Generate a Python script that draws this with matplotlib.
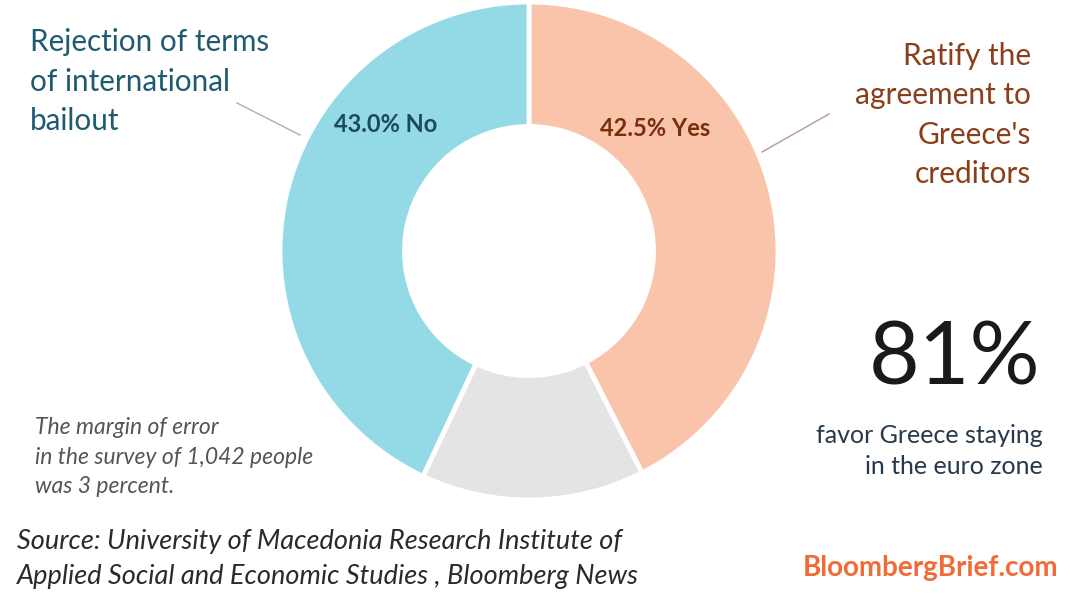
import matplotlib.pyplot as plt

plt.rcParams["font.family"] = ["Lato", "DejaVu Sans"]

# poll result, clockwise from the top
segments = ["Yes", "Other", "No"]
shares = [42.5, 14.5, 43.0]
seg_colors = ["#fac4ab", "#e4e4e4", "#93d9e6"]

inner_labels = {"Yes": "42.5% Yes", "No": "43.0% No"}
yes_note = "Ratify the\nagreement to\nGreece's\ncreditors"
no_note = "Rejection of terms\nof international\nbailout"
big_stat = "81%"
big_stat_note = "favor Greece staying\nin the euro zone"
margin_note = "The margin of error\nin the survey of 1,042 people\nwas 3 percent."
source = ("Source: University of Macedonia Research Institute of\n"
          "Applied Social and Economic Studies , Bloomberg News")
brand = "BloombergBrief.com"

W, H = 1090, 597
fig = plt.figure(figsize=(W / 100, H / 100), dpi=100)
ax = fig.add_axes([0, 0, 1, 1])

# work in pixel units, y measured from the top
cx, cy, R = 529, 251, 249
ax.pie(
    shares,
    colors=seg_colors,
    startangle=90,
    counterclock=False,
    center=(cx, H - cy),
    radius=R,
    frame=True,
    wedgeprops=dict(width=R * 0.5, edgecolor="white", linewidth=3.5),
)
ax.set_xlim(0, W)
ax.set_ylim(0, H)
ax.set_aspect("equal")
ax.axis("off")


def px(x, y):
    return x, H - y


ax.text(*px(386, 124), inner_labels["No"], ha="center", va="center",
        fontsize=17, fontweight="bold", color="#1b4b5a")
ax.text(*px(655, 128), inner_labels["Yes"], ha="center", va="center",
        fontsize=17, fontweight="bold", color="#7a2e0e")

# callouts
ax.text(*px(30, 82), no_note, ha="left", va="center", fontsize=21.3,
        color="#1f5a70", linespacing=1.5)
ax.plot(*zip(px(237, 103), px(300, 135)), color="#9fb4bf", lw=1)

ax.text(*px(1031, 115), yes_note, ha="right", va="center", fontsize=21.5,
        color="#8a3f1a", linespacing=1.48)
ax.plot(*zip(px(762, 152), px(829, 114)), color="#b59a8e", lw=1)

ax.text(*px(1040, 360), big_stat, ha="right", va="center", fontsize=63,
        color="#1a1a1a")
ax.text(*px(1043, 451), big_stat_note, ha="right", va="center", fontsize=18,
        color="#27384a", linespacing=1.46)

ax.text(*px(35, 457), margin_note, ha="left", va="center", fontsize=16.5,
        style="italic", color="#555555", linespacing=1.5)
ax.text(*px(17, 559), source, ha="left", va="center", fontsize=19.5,
        style="italic", color="#2a2a2a", linespacing=1.5)
ax.text(*px(1058, 568), brand, ha="right", va="center", fontsize=20,
        fontweight="bold", color="#f26a36")

fig.savefig("out.png", dpi=100)
